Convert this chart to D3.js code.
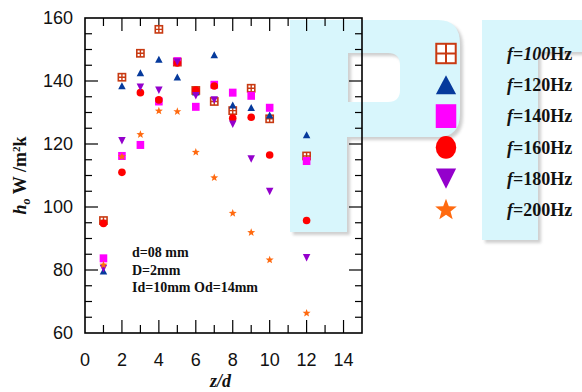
<!DOCTYPE html>
<html>
<head>
<meta charset="utf-8">
<script src="https://cdn.jsdelivr.net/npm/d3@7"></script>
<style>
  body { margin: 0; background: #fff; }
  svg { display: block; }
  .tick-label { font-family: "Liberation Sans", Arial, sans-serif; font-size: 18px; fill: #111; }
  .serif { font-family: "Liberation Serif", "Times New Roman", serif; font-weight: bold; fill: #111; }
</style>
</head>
<body>
<div id="chart"></div>
<script>
// h_o en fonction de z/d pour plusieurs fréquences
const zd = [1, 2, 3, 4, 5, 6, 7, 8, 9, 10, 12];
const f100 = [95.7, 141.2, 148.8, 156.4, 146.0, 137.0, 133.5, 130.6, 137.7, 128.0, 116.2];
const f120 = [79.7, 138.5, 142.6, 146.9, 141.3, 136.5, 148.3, 132.4, 131.6, 129.2, 122.9];
const f140 = [83.7, 116.2, 119.7, 133.5, 146.3, 131.8, 138.8, 136.3, 135.3, 131.5, 114.6];
const f160 = [94.8, 111.0, 136.3, 134.0, 145.7, 137.1, 138.4, 128.2, 128.5, 116.5, 95.7];
const f180 = [80.5, 121.0, 138.0, 137.1, 146.0, 135.3, 134.0, 126.3, 115.2, 104.9, 83.9];
const f200 = [81.6, 116.0, 123.0, 130.5, 130.3, 117.4, 109.3, 98.0, 91.9, 83.2, 66.3];
const seriesNames = ["100", "120", "140", "160", "180", "200"];
const xTicks = [0, 2, 4, 6, 8, 10, 12, 14];
const yTicks = [60, 80, 100, 120, 140, 160];
const notes = ["d=08 mm", "D=2mm", "Id=10mm Od=14mm"];

function createChart() {
    const W = 582, H = 392;
    const margin = { top: 18, left: 85 };
    const width = 277, height = 315;

    const svg = d3.select("#chart").append("svg")
        .attr("width", W).attr("height", H);

    // Filigrane "PDF" en arrière-plan (ombre floue + lettres cyan)
    const defs = svg.append("defs");
    defs.append("filter").attr("id", "blur")
        .attr("filterUnits", "userSpaceOnUse")
        .attr("x", 0).attr("y", 0).attr("width", W).attr("height", H)
        .append("feGaussianBlur").attr("stdDeviation", 1.8);

    function letters(sel, color) {
        sel.append("rect").attr("x", 290).attr("y", 20).attr("width", 57).attr("height", 212)
            .attr("fill", color);
        sel.append("path").attr("fill", color).attr("fill-rule", "evenodd").attr("d",
            "M346,20 L438,20 Q460,20 460,44 L460,113 Q460,137 438,137 L346,137 Z " +
            "M348,53 L348,102 L388,102 Q400,102 400,90 L400,65 Q400,53 388,53 Z");
        sel.append("rect").attr("x", 482).attr("y", 20).attr("width", 56).attr("height", 220)
            .attr("fill", color);
        sel.append("rect").attr("x", 537).attr("y", 20).attr("width", 50).attr("height", 32)
            .attr("fill", color);
    }
    const shadow = svg.append("g").attr("filter", "url(#blur)")
        .attr("transform", "translate(3,3)").attr("opacity", 0.35);
    letters(shadow, "#777");
    letters(svg.append("g"), "#d8f6fc");

    const x = d3.scaleLinear().domain([0, 15]).range([margin.left, margin.left + width]);
    const y = d3.scaleLinear().domain([60, 160]).range([margin.top + height, margin.top]);

    const g = svg.append("g");

    // Graduations
    const xMinor = d3.range(1, 15);
    const yMinor = d3.range(65, 160, 5);
    xMinor.forEach(t => {
        const len = t % 2 === 0 ? 13 : 8;
        g.append("line").attr("x1", x(t)).attr("x2", x(t))
            .attr("y1", y(60)).attr("y2", y(60) - len).attr("stroke", "#000").attr("stroke-width", 1.2);
        g.append("line").attr("x1", x(t)).attr("x2", x(t))
            .attr("y1", y(160)).attr("y2", y(160) + len).attr("stroke", "#000").attr("stroke-width", 1.2);
    });
    yMinor.forEach(t => {
        const len = t % 20 === 0 ? 13 : 7;
        g.append("line").attr("x1", x(0)).attr("x2", x(0) + len)
            .attr("y1", y(t)).attr("y2", y(t)).attr("stroke", "#000").attr("stroke-width", 1.2);
        g.append("line").attr("x1", x(15)).attr("x2", x(15) - len)
            .attr("y1", y(t)).attr("y2", y(t)).attr("stroke", "#000").attr("stroke-width", 1.2);
    });

    // Cadre
    g.append("rect").attr("x", x(0)).attr("y", y(160))
        .attr("width", x(15) - x(0)).attr("height", y(60) - y(160))
        .attr("fill", "none").attr("stroke", "#000").attr("stroke-width", 1.6);

    // Étiquettes des axes
    g.selectAll(".xl").data(xTicks).enter().append("text")
        .attr("class", "tick-label").attr("x", d => x(d)).attr("y", y(60) + 33)
        .attr("text-anchor", "middle").text(d => d);
    g.selectAll(".yl").data(yTicks).enter().append("text")
        .attr("class", "tick-label").attr("x", x(0) - 12).attr("y", d => y(d))
        .attr("dy", "0.36em").attr("text-anchor", "end").text(d => d);

    g.append("text").attr("class", "serif").attr("x", (x(0) + x(15)) / 2 - 3).attr("y", 387)
        .attr("text-anchor", "middle").style("font-size", "18px").style("font-style", "italic")
        .text("z/d");

    const yl = g.append("text").attr("class", "serif")
        .attr("transform", `translate(26,${(y(60) + y(160)) / 2}) rotate(-90)`)
        .attr("text-anchor", "middle").style("font-size", "18px");
    yl.append("tspan").style("font-style", "italic").text("h");
    yl.append("tspan").style("font-style", "italic").style("font-size", "12px").attr("dy", 4).text("o");
    yl.append("tspan").attr("dy", -4).text(" W /m");
    yl.append("tspan").style("font-size", "11px").attr("dy", -6).text("2");
    yl.append("tspan").attr("dy", 6).text("k");

    // Notes
    g.selectAll(".note").data(notes).enter().append("text")
        .attr("class", "serif").style("font-size", "14px")
        .attr("x", 132).attr("y", (d, i) => 257 + i * 17.5).text(d => d);

    // Marqueurs
    function tri(w, h, down) {
        const s = down ? -1 : 1;
        return `M0,${-s * h / 2}L${w / 2},${s * h / 2}L${-w / 2},${s * h / 2}Z`;
    }
    function star(R) {
        const r = R * 0.42;
        let p = "";
        for (let i = 0; i < 10; i++) {
            const a = -Math.PI / 2 + i * Math.PI / 5;
            const rr = i % 2 ? r : R;
            p += (i ? "L" : "M") + (rr * Math.cos(a)).toFixed(2) + "," + (rr * Math.sin(a)).toFixed(2);
        }
        return p + "Z";
    }
    function drawMarker(sel, k, s) {
        // s = 1 pour le graphique, ~2.7 pour la légende
        if (k === 0) {
            const h = 3.6 * s;
            sel.append("rect").attr("x", -h).attr("y", -h).attr("width", 2 * h).attr("height", 2 * h)
                .attr("fill", "#fff").attr("stroke", "#c83a12").attr("stroke-width", s > 1 ? 2 : 1.6);
            sel.append("path").attr("d", `M${-h},0H${h}M0,${-h}V${h}`)
                .attr("stroke", "#c83a12").attr("stroke-width", s > 1 ? 2 : 1.4);
        } else if (k === 1) {
            sel.append("path").attr("d", tri(7.5 * s, 7 * s, false)).attr("fill", "#063a9c");
        } else if (k === 2) {
            sel.append("rect").attr("x", -3.8 * s).attr("y", -4 * s * (s > 1 ? 1.1 : 1))
                .attr("width", 7.6 * s).attr("height", 8 * s * (s > 1 ? 1.1 : 1)).attr("fill", "#ff00ff");
        } else if (k === 3) {
            sel.append("ellipse").attr("rx", 3.8 * s).attr("ry", 3.8 * s * (s > 1 ? 1.1 : 1)).attr("fill", "#ff0000");
        } else if (k === 4) {
            sel.append("path").attr("d", tri(7.5 * s, 7.5 * s, true)).attr("fill", "#9400cc");
        } else {
            sel.append("path").attr("d", star(4.2 * s)).attr("fill", "#ff6a10");
        }
    }

    const allSeries = [f100, f120, f140, f160, f180, f200];
    allSeries.forEach((vals, k) => {
        vals.forEach((v, i) => {
            const m = g.append("g").attr("transform", `translate(${x(zd[i])},${y(v)})`);
            drawMarker(m, k, 1);
        });
    });

    // Légende
    const legend = g.append("g");
    seriesNames.forEach((n, k) => {
        const cy = 53.5 + k * 31.3;
        const m = legend.append("g").attr("transform", `translate(446,${cy})`);
        drawMarker(m, k, 2.7);
        const t = legend.append("text").attr("class", "serif").style("font-size", "18px")
            .attr("x", 507).attr("y", cy).attr("dy", "0.35em");
        t.append("tspan").style("font-style", "italic").text("f");
        t.append("tspan").text("=");
        t.append("tspan").style("font-style", k === 0 ? "italic" : "normal").text(n);
        t.append("tspan").text("Hz");
    });
}

createChart();
</script>
</body>
</html>
